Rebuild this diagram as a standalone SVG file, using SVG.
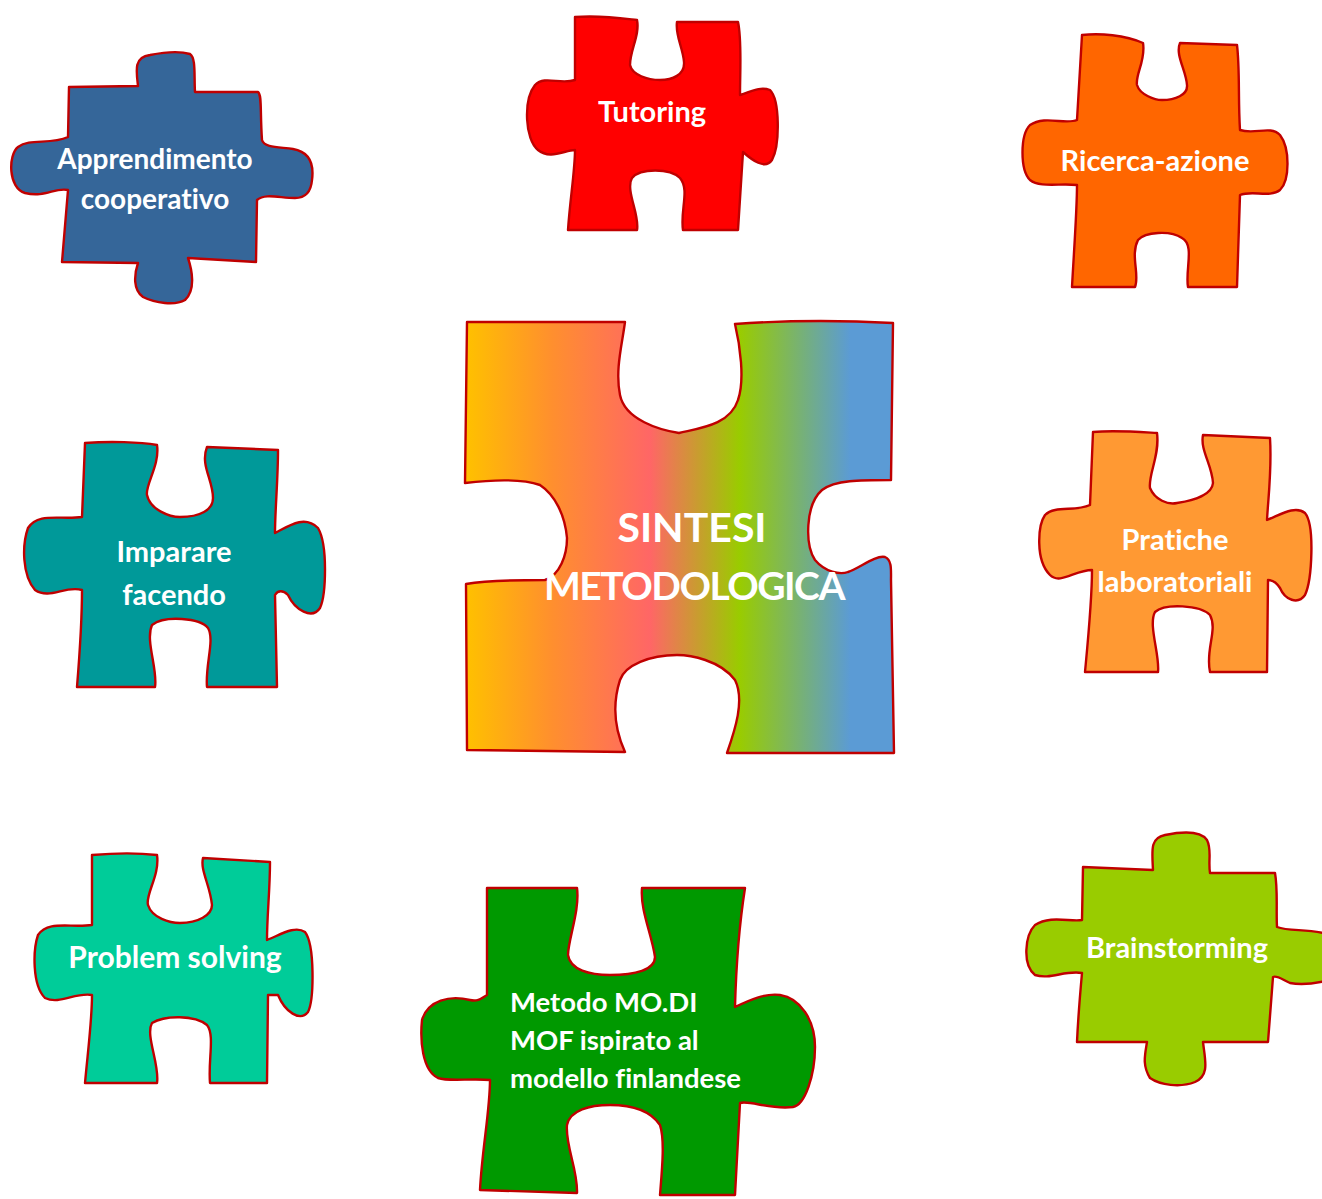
<svg xmlns="http://www.w3.org/2000/svg" width="1322" height="1199" viewBox="0 0 1322 1199">
<style>
.pc{stroke:#C00000;stroke-width:2.4;stroke-linejoin:round}
.t{font-family:Lato,"Open Sans","Liberation Sans",sans-serif;font-weight:700;fill:#FFFFFF;font-size:29px;text-anchor:middle;font-variant-ligatures:none;font-feature-settings:"liga" 0}
.big{font-size:41px}
.big2{font-size:39px;letter-spacing:-1.5px}
.left{text-anchor:start;font-size:27.5px}
</style>
<defs>
<linearGradient id="rainbow" gradientUnits="userSpaceOnUse" x1="467" y1="0" x2="893" y2="0">
<stop offset="0" stop-color="#FFC000"/>
<stop offset="0.2" stop-color="#FF8F2E"/>
<stop offset="0.43" stop-color="#FF6666"/>
<stop offset="0.64" stop-color="#99CC00"/>
<stop offset="0.9" stop-color="#5B9BD5"/>
<stop offset="1" stop-color="#5B9BD5"/>
</linearGradient>
</defs>

<g id="node-apprendimento">
<path class="pc" fill="#356699" d="M69,87 L138,86 C136,70 134,57 150,55 C165,52 180,51 190,54 C196,58 194,75 195,92 L258,92 C262,95 260,110 262,140 C264,148 280,147 293,149 C310,152 314,165 312,180 C311,192 305,198 295,198 C280,198 265,193 257,200 L256,262 L188,258 C192,270 196,290 185,300 C175,306 155,303 143,297 C133,290 134,275 138,263 L62,262 C64,240 66,215 68,190 C55,187 45,198 25,193 C8,188 8,155 18,147 C30,138 50,145 68,137 Z"/>
<text class="t" x="155" y="169" style="font-size:28px">Apprendimento</text>
<text class="t" x="155" y="209" style="font-size:28px">cooperativo</text>
</g>

<g id="node-tutoring">
<path class="pc" fill="#FF0000" d="M575,17 C600,15 620,18 637,20 C640,35 630,50 630,65 C632,75 648,80 660,80 C672,80 685,75 684,62 C683,48 675,35 677,22 L738,22 C742,40 740,70 740,95 C750,92 760,86 770,90 C780,100 780,145 772,160 C765,170 752,160 743,152 L738,230 L683,230 C680,210 690,190 680,178 C670,168 640,168 632,178 C625,190 640,215 637,230 L568,230 C570,200 575,170 575,150 C565,150 550,160 538,150 C525,140 523,100 535,85 C545,75 560,85 575,80 Z"/>
<text class="t" x="652" y="122">Tutoring</text>
</g>

<g id="node-ricerca">
<path class="pc" fill="#FF6600" d="M1082,35 C1100,33 1125,35 1143,43 C1146,60 1135,75 1137,85 C1140,95 1155,100 1162,100 C1175,100 1188,95 1187,85 C1186,70 1175,55 1180,43 L1237,45 C1240,70 1238,100 1240,130 C1255,135 1270,125 1280,135 C1290,148 1290,180 1280,190 C1270,198 1252,190 1240,195 L1237,287 L1188,287 C1185,270 1195,245 1182,238 C1170,230 1145,232 1138,240 C1130,255 1140,275 1135,287 L1072,287 C1074,250 1077,210 1077,185 C1060,183 1040,188 1030,180 C1020,170 1020,135 1030,125 C1045,115 1065,125 1077,120 Z"/>
<text class="t" x="1155" y="171">Ricerca-azione</text>
</g>

<g id="node-sintesi">
<path class="pc" fill="url(#rainbow)" d="M467,322 L625,322 C622,345 615,370 620,395 C625,420 660,430 679,433 C700,428 730,425 738,400 C745,380 740,345 735,324 C790,320 840,320 893,323 L891,480 C860,480 835,480 822,490 C805,505 805,545 815,560 C825,572 840,575 848,572 C860,568 875,555 885,557 C892,560 891,570 891,580 L894,753 L727,753 C735,730 745,700 735,680 C720,660 690,655 677,655 C650,655 625,665 620,680 C612,705 615,730 625,752 L467,750 L466,584 C490,580 520,580 545,580 C560,575 567,555 567,538 C565,515 555,495 540,485 C520,478 490,480 465,483 Z"/>
<text class="t big" x="692" y="542">SINTESI</text>
<text class="t big2" x="694" y="600">METODOLOGICA</text>
</g>

<g id="node-pratiche">
<path class="pc" fill="#FF9933" d="M1093,432 C1115,430 1140,432 1157,433 C1160,455 1148,475 1150,488 C1155,500 1168,505 1177,503 C1195,500 1212,495 1213,483 C1212,465 1200,450 1203,435 L1270,438 C1272,470 1268,500 1267,520 C1280,515 1295,505 1305,513 C1315,525 1312,580 1305,595 C1298,605 1285,600 1280,588 C1275,580 1270,580 1268,580 L1267,672 L1210,672 C1205,650 1218,630 1210,615 C1200,605 1165,603 1155,612 C1148,625 1160,655 1158,672 L1085,672 C1088,640 1092,600 1092,570 C1075,570 1060,585 1050,575 C1035,560 1038,525 1045,515 C1055,505 1075,512 1090,505 Z"/>
<text class="t" x="1175" y="550">Pratiche</text>
<text class="t" x="1175" y="592">laboratoriali</text>
</g>

<g id="node-imparare">
<path class="pc" fill="#009999" d="M85,443 C110,441 140,442 157,445 C160,465 145,485 147,495 C150,510 170,517 180,517 C200,517 213,510 213,498 C213,480 200,465 207,447 L278,450 C278,480 275,510 275,533 C290,525 305,515 318,528 C328,545 326,595 320,608 C312,620 295,610 288,595 C283,590 278,590 275,595 L277,687 L207,687 C205,665 215,640 208,628 C200,618 165,615 152,625 C145,640 158,670 155,687 L77,687 C80,650 82,620 82,590 C65,585 50,600 35,590 C22,575 22,545 28,528 C38,512 60,520 82,517 Z"/>
<text class="t" x="174" y="562">Imparare</text>
<text class="t" x="174" y="605">facendo</text>
</g>

<g id="node-problem">
<path class="pc" fill="#00CC99" d="M92,855 C115,853 140,853 157,855 C160,875 145,895 148,905 C152,918 170,923 180,923 C198,923 212,915 212,905 C210,885 200,870 203,858 L270,862 C270,890 267,915 267,940 C280,935 295,925 305,932 C315,945 314,1000 308,1012 C300,1022 285,1012 278,995 L268,995 L267,1083 L210,1083 C208,1060 215,1035 207,1025 C195,1015 165,1015 152,1023 C145,1035 160,1065 157,1083 L85,1083 C88,1050 92,1020 92,995 C75,992 60,1005 45,998 C32,985 33,950 38,935 C48,920 70,928 92,925 Z"/>
<text class="t" x="175" y="968" style="font-size:30px">Problem solving</text>
</g>

<g id="node-metodo">
<path class="pc" fill="#009900" d="M487,888 L577,888 C580,910 568,940 568,955 C570,970 590,975 610,975 C635,975 655,970 655,957 C652,935 640,910 642,888 L745,888 C740,920 736,970 735,1007 C750,1000 765,993 780,995 C800,998 815,1020 815,1047 C815,1075 805,1105 793,1107 C770,1110 750,1100 740,1103 L735,1195 L660,1195 C662,1170 665,1140 660,1125 C650,1110 630,1105 610,1105 C590,1105 570,1110 567,1125 C565,1145 578,1170 577,1193 L480,1190 C482,1150 490,1110 490,1080 C470,1078 450,1082 438,1078 C422,1070 420,1040 422,1020 C428,1000 450,995 470,1000 C478,1002 482,998 487,995 Z"/>
<text class="t left" x="510" y="1012">Metodo MO.DI</text>
<text class="t left" x="510" y="1050">MOF ispirato al</text>
<text class="t left" x="510" y="1088">modello finlandese</text>
</g>

<g id="node-brainstorming">
<path class="pc" fill="#99CC00" d="M1083,867 L1153,870 C1152,850 1150,838 1165,835 C1180,832 1200,830 1207,840 C1212,850 1208,860 1210,873 L1275,873 C1278,890 1276,910 1277,927 C1290,932 1310,928 1330,935 L1330,980 C1310,985 1300,985 1290,983 C1283,980 1277,975 1273,977 L1268,1042 L1203,1042 C1205,1060 1210,1075 1195,1082 C1180,1088 1160,1085 1150,1078 C1142,1065 1145,1055 1147,1042 L1077,1042 C1078,1020 1080,995 1082,973 C1065,970 1050,980 1035,975 C1022,965 1025,935 1035,925 C1050,915 1070,922 1082,920 Z"/>
<text class="t" x="1177" y="958">Brainstorming</text>
</g>
</svg>
